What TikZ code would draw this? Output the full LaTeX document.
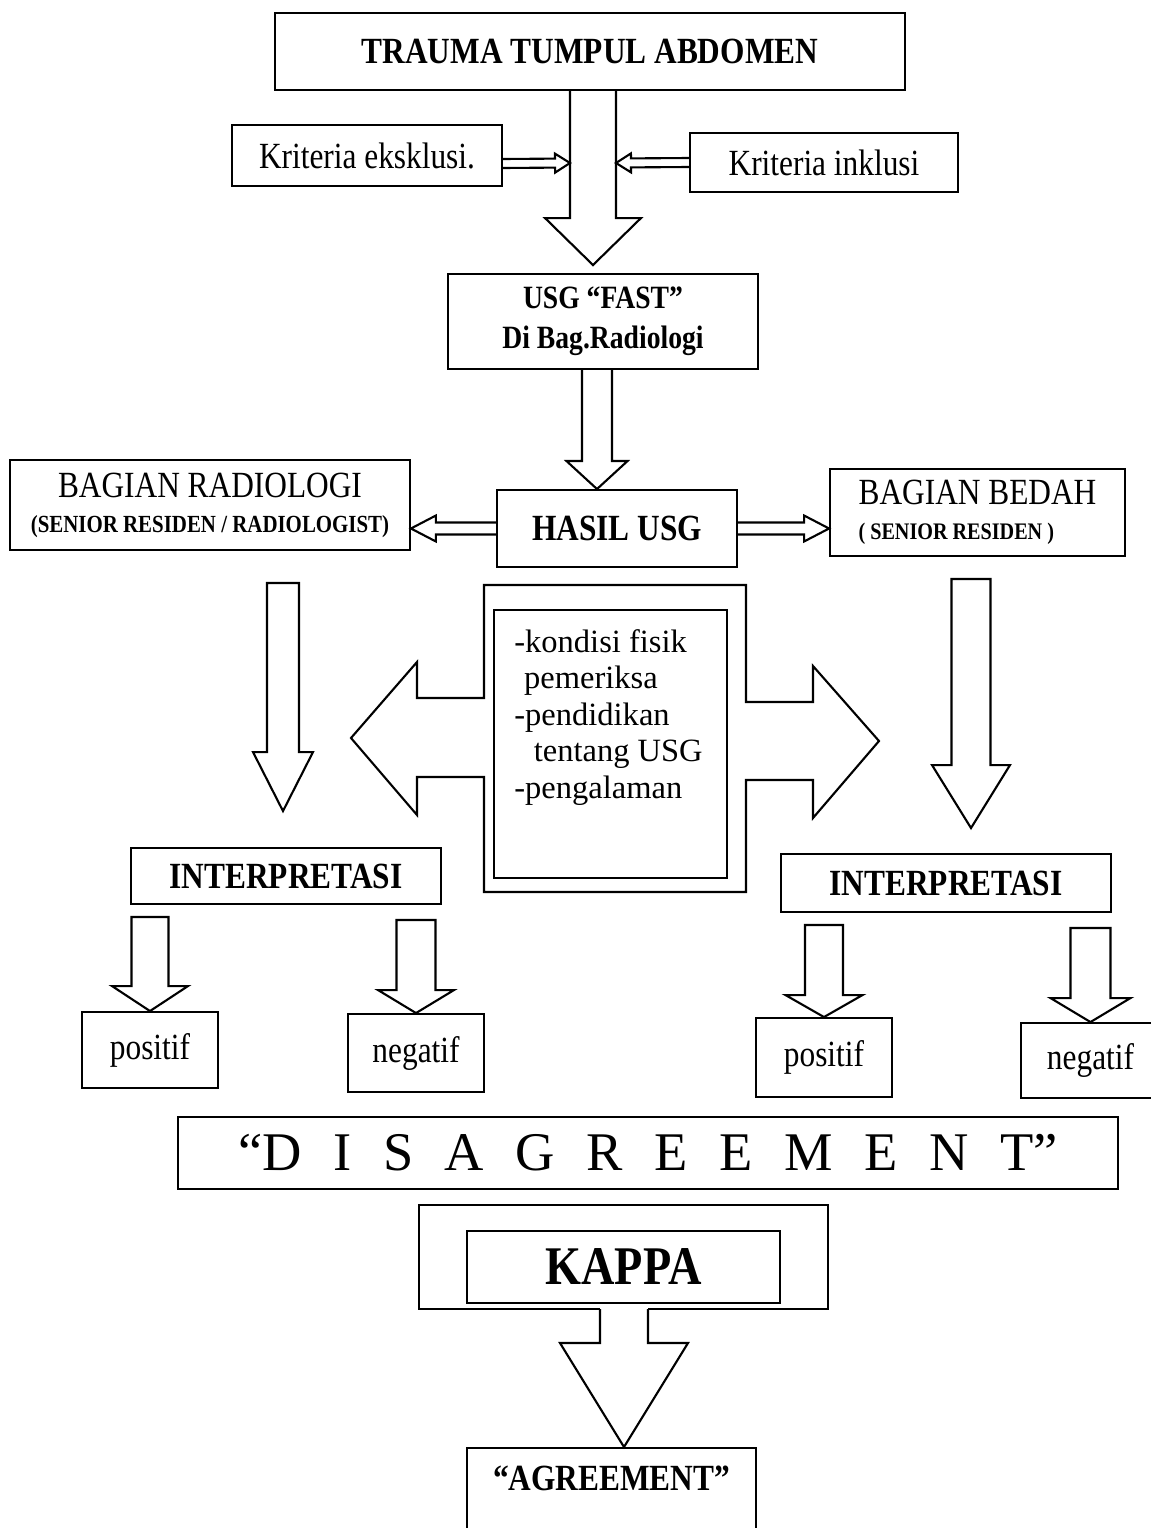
\documentclass[tikz,border=0pt]{standalone}
\usepackage{fontspec}
\setmainfont{Liberation Serif}[FakeStretch=0.85]
\newfontfamily\plainserif{Liberation Serif}
\usepackage{tikz}
\usetikzlibrary{positioning, calc}
\tikzstyle{box} = [rectangle, draw=black, line width=1.1pt, inner sep=0pt, align=center, font=\fontsize{21}{24}\selectfont]
\tikzstyle{boldbox} = [box, font=\fontsize{21}{24}\selectfont\bfseries]
\tikzstyle{outline} = [draw=black, line width=1.2pt, line join=miter]
% block arrow: [closing] tail, tip, shaft half width, head half width, head length
\newcommand{\fatarrow}[6][]{%
    \coordinate (tail) at (#2);
    \coordinate (tip) at (#3);
    \coordinate (neck) at ($(tip)!#6!(tail)$);
    \draw [outline] ($(tail)!#4!90:(tip)$) -- ($(neck)!#4!90:(tip)$) -- ($(neck)!#5!90:(tip)$) -- (tip) -- ($(neck)!#5!-90:(tip)$) -- ($(neck)!#4!-90:(tip)$) -- ($(tail)!#4!-90:(tip)$) #1;
}
\begin{document}
\begin{tikzpicture}[x=0.02cm, y=-0.02cm]
    \useasboundingbox (0,0) rectangle (1150,1528);

    % Trauma and criteria
    \node (trauma) [boldbox, minimum width=12.6cm, minimum height=1.54cm] at (590,51.5) {TRAUMA TUMPUL ABDOMEN};
    \node (excl) [box, minimum width=5.4cm, minimum height=1.22cm] at (367,155.5) {Kriteria eksklusi.};
    \node (incl) [box, minimum width=5.36cm, minimum height=1.18cm] at (824,162.5) {Kriteria inklusi};
    \coordinate (mergeL) at (570,163);
    \coordinate (mergeR) at (616,163);

    % USG
    \node (usg) [boldbox, font=\fontsize{18.5}{23}\selectfont\bfseries, minimum width=6.2cm, minimum height=1.9cm] at (603,321.5) {USG “FAST”\\Di Bag.Radiologi};
    \node (hasil) [boldbox, minimum width=4.8cm, minimum height=1.54cm] at (617,528.5) {HASIL USG};

    % Readers
    \node (radio) [box, minimum width=8cm, minimum height=1.8cm] at (210,505) {BAGIAN RADIOLOGI\\[-4pt]{\fontsize{14}{16}\selectfont\bfseries (SENIOR RESIDEN / RADIOLOGIST)}};
    \node (bedah) [box, align=left, minimum width=5.9cm, minimum height=1.74cm] at (977.5,512.5) {BAGIAN BEDAH\\[-4pt]{\fontsize{13.5}{16}\selectfont\bfseries ( SENIOR RESIDEN )}};

    % Factors
    \draw [outline] (484,585) -- (746,585) -- (746,702) -- (813,702) -- (813,666) -- (879,741) -- (813,818) -- (813,780) -- (746,780) -- (746,892) -- (484,892) -- (484,777) -- (417,777) -- (417,815) -- (351,738) -- (417,662) -- (417,698) -- (484,698) -- cycle;
    \node (factors) [box, minimum width=4.66cm, minimum height=5.36cm] at (610.5,744) {};
    \node (factext) [anchor=north west, align=left, inner sep=0pt, font=\plainserif\fontsize{18.5}{20.8}\selectfont] at ($(factors.north west)+(21,20)$) {-kondisi fisik\\\hspace*{0.3em}pemeriksa\\-pendidikan\\\hspace*{0.6em}tentang USG\\-pengalaman};

    % Interpretation
    \node (interpL) [boldbox, minimum width=6.2cm, minimum height=1.12cm] at (286,876) {INTERPRETASI};
    \node (interpR) [boldbox, minimum width=6.6cm, minimum height=1.16cm] at (946,883) {INTERPRETASI};
    \node (posL) [box, minimum width=2.72cm, minimum height=1.52cm] at (150,1050) {positif};
    \node (negL) [box, minimum width=2.72cm, minimum height=1.56cm] at (416,1053) {negatif};
    \node (posR) [box, minimum width=2.72cm, minimum height=1.58cm] at (824,1057.5) {positif};
    \node (negR) [box, minimum width=2.78cm, minimum height=1.5cm] at (1090.5,1060.5) {negatif};

    % Disagreement and kappa
    \node (disagree) [box, minimum width=18.8cm, minimum height=1.44cm, font={\plainserif\fontsize{31}{34}\selectfont\spaceskip=0.58em\relax}] at (648,1153) {“D I S A G R E E M E N T”};
    \draw [outline] (600,1309) -- (419,1309) -- (419,1205) -- (828,1205) -- (828,1309) -- (648,1309);
    \node (kappa) [boldbox, font=\fontsize{31}{34}\selectfont\bfseries, minimum width=6.26cm, minimum height=1.44cm] at (623.5,1267) {KAPPA};
    \coordinate (kappabase) at (624,1309);
    \node (agree) [boldbox, anchor=north, minimum width=5.78cm, minimum height=2cm, text height=0.86cm, text depth=1.14cm] at (611.5,1447) {“AGREEMENT”};

    % Arrows
    \fatarrow{trauma.south -| 593,0}{$(usg.north -| 593,0)+(0,-8)$}{0.46cm}{0.96cm}{0.94cm}
    \fatarrow{$(excl.east)+(0,8)$}{mergeL}{0.09cm}{0.19cm}{0.3cm}
    \fatarrow{incl.west}{mergeR}{0.09cm}{0.19cm}{0.3cm}
    \fatarrow{usg.south -| 597,0}{hasil.north -| 597,0}{0.3cm}{0.61cm}{0.56cm}
    \fatarrow{hasil.west}{radio.east |- hasil.west}{0.12cm}{0.26cm}{0.5cm}
    \fatarrow{hasil.east}{bedah.west |- hasil.east}{0.12cm}{0.26cm}{0.5cm}
    \fatarrow[-- cycle]{$(radio.south -| 283,0)+(0,32)$}{$(interpL.north -| 283,0)+(0,-36)$}{0.32cm}{0.6cm}{1.18cm}
    \fatarrow[-- cycle]{$(bedah.south -| 971,0)+(0,22)$}{$(interpR.north -| 971,0)+(0,-25)$}{0.39cm}{0.78cm}{1.26cm}
    \fatarrow[-- cycle]{$(interpL.south -| posL.north)+(0,12)$}{posL.north}{0.37cm}{0.76cm}{0.5cm}
    \fatarrow[-- cycle]{$(interpL.south -| negL.north)+(0,15)$}{negL.north}{0.39cm}{0.76cm}{0.46cm}
    \fatarrow[-- cycle]{$(interpR.south -| posR.north)+(0,12)$}{posR.north}{0.38cm}{0.77cm}{0.44cm}
    \fatarrow[-- cycle]{$(interpR.south -| negR.north)+(0,15)$}{negR.north}{0.4cm}{0.8cm}{0.48cm}
    \fatarrow{kappabase}{agree.north -| kappabase}{0.48cm}{1.28cm}{2.08cm}
\end{tikzpicture}
\end{document}
